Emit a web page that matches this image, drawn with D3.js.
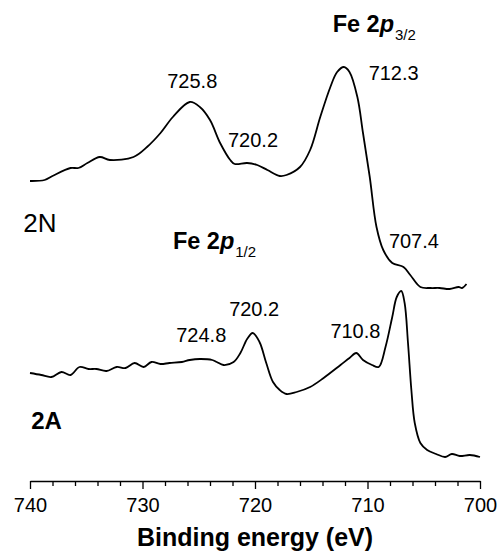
<!DOCTYPE html>
<html>
<head>
<meta charset="utf-8">
<script src="https://cdn.jsdelivr.net/npm/d3@7"></script>
<style>
  body { margin: 0; background: #fff; }
  svg { display: block; }
  text { font-family: "Liberation Sans", Arial, Helvetica, sans-serif; fill: #000; }
  .spectrum { fill: none; stroke: #000; stroke-width: 1.8; stroke-linejoin: round; }
  .axis path, .axis line { stroke: #000; stroke-width: 1.3; }
  .axis text { font-size: 20px; }
</style>
</head>
<body>
<div id="chart"></div>
<script>
// Fe 2p XPS spectra, binding energy (eV) vs intensity (arb. units, stacked)
var energy2N = [740.0, 738.7, 738.0, 736.4, 735.7, 734.9, 733.8, 732.9, 730.8, 729.6,
  728.4, 727.3, 725.8, 724.9, 724.0, 723.1, 722.2, 721.8, 720.7, 719.8, 718.9, 717.8,
  717.2, 716.0, 715.1, 714.2, 713.3, 712.7, 712.1, 711.6, 710.9, 710.4, 709.8, 709.2,
  708.6, 707.8, 706.8, 706.2, 705.3, 704.4, 703.6, 702.7, 701.9, 701.6, 701.2];
var intensity2N = [30.0, 30.1, 30.5, 31.3, 31.3, 31.8, 32.4, 32.1, 32.4, 33.4,
  34.8, 36.4, 37.9, 37.4, 36.1, 33.8, 32.1, 31.7, 31.8, 31.6, 31.1, 30.5,
  30.6, 31.4, 33.1, 36.4, 39.4, 40.9, 41.4, 40.9, 38.4, 34.8, 30.4, 25.4,
  23.1, 21.8, 21.4, 20.6, 19.4, 19.3, 19.3, 19.2, 19.4, 19.3, 19.7];

var energy2A = [740.0, 739.0, 738.1, 737.2, 736.4, 735.6, 734.8, 734.1, 733.2, 732.3,
  731.5, 730.7, 729.9, 729.2, 728.4, 727.6, 726.5, 725.8, 724.9, 723.8, 723.4, 722.8,
  721.9, 721.3, 720.7, 720.2, 719.6, 719.0, 718.4, 717.8, 717.2, 716.3, 715.1, 713.9,
  712.4, 711.6, 711.0, 710.4, 709.6, 709.0, 708.4, 707.8, 707.4, 707.0, 706.7, 706.4,
  706.1, 705.8, 705.3, 704.7, 703.9, 703.1, 702.5, 701.8, 700.9, 700.0];
var intensity2A = [10.8, 10.6, 10.4, 10.9, 10.6, 11.4, 11.2, 11.2, 11.0, 11.4,
  11.3, 11.8, 11.4, 11.9, 11.7, 11.8, 11.9, 12.1, 12.2, 12.1, 11.9, 11.6,
  11.9, 12.8, 14.2, 14.8, 13.9, 11.8, 9.9, 9.1, 8.7, 8.9, 9.4, 10.3,
  11.6, 12.3, 12.8, 12.1, 11.6, 11.4, 13.4, 16.4, 18.4, 19.0, 17.8, 13.8,
  9.1, 5.8, 3.8, 3.1, 2.7, 2.4, 2.7, 2.5, 2.6, 2.4];

var majorTicks = [740, 730, 720, 710, 700];
var minorTicks = [738, 736, 734, 732, 728, 726, 724, 722, 718, 716, 714, 712, 708, 706, 704, 702];

// peak annotations: label text, anchored at (eV, intensity)
var peakLabels = ["725.8", "720.2", "712.3", "707.4", "724.8", "720.2", "710.8"];
var peakEnergy = [727.8, 722.4, 709.9, 708.1, 727.0, 722.3, 713.3];
var peakIntensity = [39.3, 33.4, 40.1, 23.3, 13.9, 16.5, 14.3];

var width = 502, height = 555;

var svg = d3.select("#chart").append("svg")
    .attr("width", width)
    .attr("height", height);

var x = d3.scaleLinear().domain([740, 700]).range([30, 480]);
var y = d3.scaleLinear().domain([0, 48.1]).range([481, 0]);

var line = d3.line()
    .x(function(d) { return x(d[0]); })
    .y(function(d) { return y(d[1]); })
    .curve(d3.curveCatmullRom.alpha(0.5));

svg.append("path")
    .attr("class", "spectrum")
    .attr("d", line(d3.zip(energy2N, intensity2N)));

svg.append("path")
    .attr("class", "spectrum")
    .attr("d", line(d3.zip(energy2A, intensity2A)));

// axis
svg.append("g")
    .attr("class", "axis")
    .attr("transform", "translate(0," + y(0) + ")")
    .call(d3.axisBottom(x).tickValues(majorTicks).tickSize(8).tickSizeOuter(0).tickPadding(9)
      .tickFormat(d3.format("d")));

var minor = svg.append("g")
    .attr("class", "axis")
    .attr("transform", "translate(0," + y(0) + ")")
    .call(d3.axisBottom(x).tickValues(minorTicks).tickSize(5).tickFormat(""));
minor.select(".domain").remove();

svg.append("text")
    .attr("x", (x.range()[0] + x.range()[1]) / 2)
    .attr("y", 546)
    .attr("text-anchor", "middle")
    .style("font-size", "25px")
    .style("font-weight", "bold")
    .text("Binding energy (eV)");

// peak labels
svg.selectAll(".peak")
    .data(peakLabels)
  .enter().append("text")
    .attr("class", "peak")
    .attr("x", function(d, i) { return x(peakEnergy[i]); })
    .attr("y", function(d, i) { return y(peakIntensity[i]); })
    .style("font-size", "20px")
    .text(function(d) { return d; });

// sample names
svg.append("text")
    .attr("x", x(740.6)).attr("y", y(24.9))
    .style("font-size", "26px")
    .text("2N");

svg.append("text")
    .attr("x", x(739.9)).attr("y", y(5.2))
    .style("font-size", "24px")
    .style("font-weight", "bold")
    .text("2A");

function feLabel(ev, val, sub) {
  var t = svg.append("text")
      .attr("x", x(ev)).attr("y", y(val))
      .style("font-size", "23.5px")
      .style("font-weight", "bold");
  t.append("tspan").text("Fe 2");
  t.append("tspan").style("font-style", "italic").text("p");
  t.append("tspan")
      .attr("dy", 8)
      .attr("dx", 1)
      .style("font-size", "15px")
      .style("font-weight", "normal")
      .text(sub);
}
feLabel(713.1, 44.9, "3/2");
feLabel(727.3, 23.2, "1/2");
</script>
</body>
</html>
